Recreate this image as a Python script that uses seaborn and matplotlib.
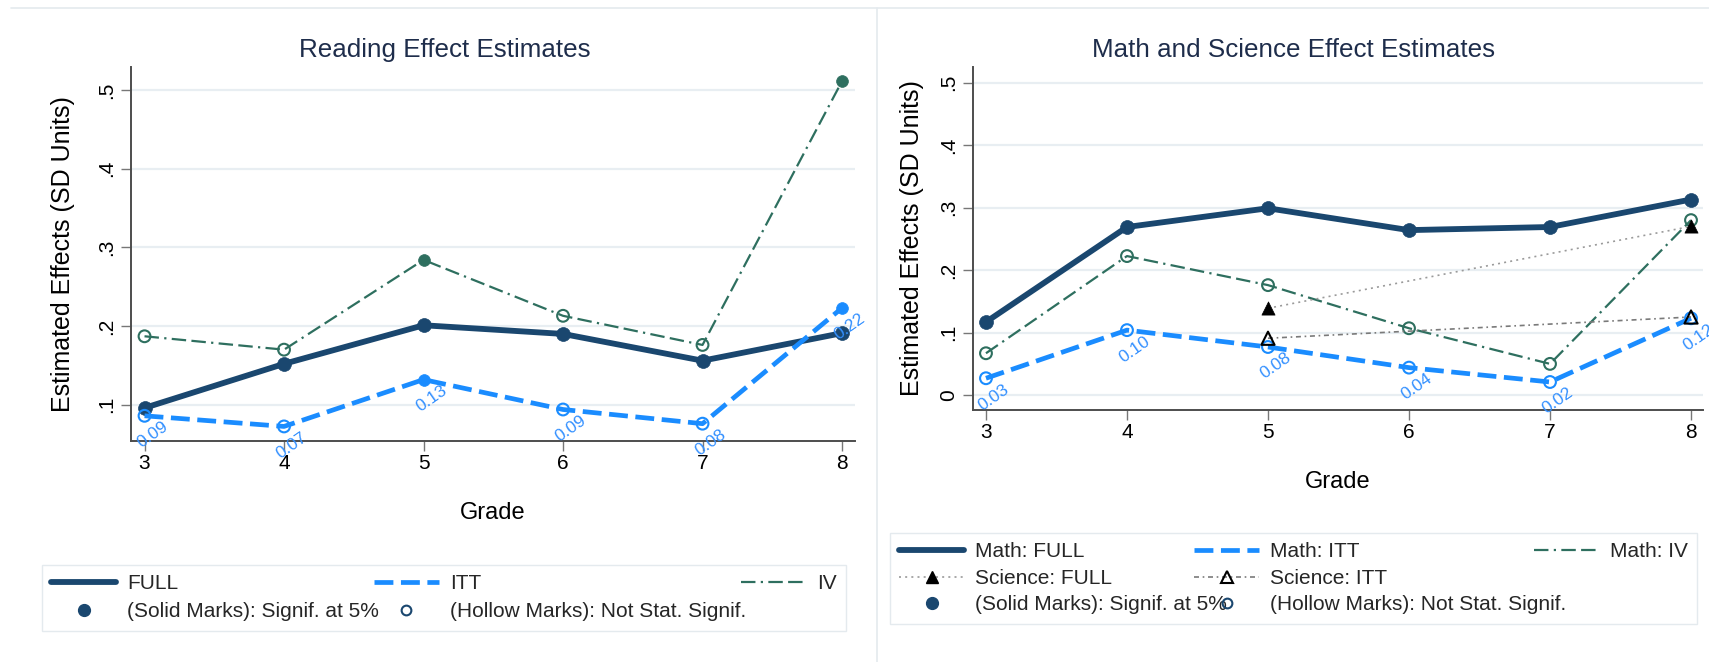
import numpy as np
import pandas as pd
import matplotlib
matplotlib.use("Agg")
import matplotlib.pyplot as plt
import seaborn as sns
from matplotlib.lines import Line2D

# ---------------- data ----------------
grades = [3, 4, 5, 6, 7, 8]
grade_labels = ["3", "4", "5", "6", "7", "8"]

read_full = [0.096, 0.152, 0.201, 0.190, 0.156, 0.191]
read_full_sig = [1, 1, 1, 1, 1, 1]
read_itt = [0.086, 0.0725, 0.132, 0.094, 0.076, 0.223]
read_itt_sig = [0, 0, 1, 0, 0, 1]
read_iv = [0.187, 0.170, 0.284, 0.213, 0.176, 0.511]
read_iv_sig = [0, 0, 1, 0, 0, 1]

math_full = [0.117, 0.269, 0.299, 0.264, 0.269, 0.313]
math_full_sig = [1, 1, 1, 1, 1, 1]
math_itt = [0.027, 0.104, 0.077, 0.044, 0.021, 0.123]
math_itt_sig = [0, 0, 0, 0, 0, 0]
math_iv = [0.067, 0.2225, 0.176, 0.107, 0.050, 0.280]
math_iv_sig = [0, 0, 0, 0, 0, 0]
sci_full = [np.nan, np.nan, 0.139, np.nan, np.nan, 0.270]
sci_full_sig = [0, 0, 1, 0, 0, 1]
sci_itt = [np.nan, np.nan, 0.091, np.nan, np.nan, 0.125]
sci_itt_sig = [0, 0, 0, 0, 0, 0]

read_yticks = [0.1, 0.2, 0.3, 0.4, 0.5]
read_ytick_labels = [".1", ".2", ".3", ".4", ".5"]
math_yticks = [0.0, 0.1, 0.2, 0.3, 0.4, 0.5]
math_ytick_labels = ["0", ".1", ".2", ".3", ".4", ".5"]

read_title = "Reading Effect Estimates"
math_title = "Math and Science Effect Estimates"
ylab = "Estimated Effects (SD Units)"
xlab = "Grade"
read_legend_labels = ["FULL", "ITT", "IV",
                      "(Solid Marks): Signif. at 5%", "(Hollow Marks): Not Stat. Signif."]
math_legend_labels = ["Math: FULL", "Math: ITT", "Math: IV", "Science: FULL", "Science: ITT",
                      "(Solid Marks): Signif. at 5%", "(Hollow Marks): Not Stat. Signif."]

# ---------------- style ----------------
sns.set_style("white")
plt.rcParams["font.family"] = ["Liberation Sans", "DejaVu Sans"]

NAVY = "#1a476f"
BLUE = "#1a8cff"
LBLUE = "#3390ff"
GREEN = "#2e6f5f"
GRAY_DOT = "#9a9a9a"
GRAY_DD = "#7a7a7a"
TITLE_C = "#1e2d4b"

ITT_LS = (0, (4.0, 1.6))
IV_LS = (0, (6.5, 2.4, 1, 2.4, 6.5, 2.4))
SCIF_LS = (0, (1.2, 2.5))
SCII_LS = (0, (3, 2.2, 1, 2.2))

W, H = 1709, 662
fig = plt.figure(figsize=(W / 100, H / 100), dpi=100)
fig.patch.set_facecolor("white")

axL = fig.add_axes([131 / W, 1 - 441 / H, 724 / W, 374 / H])
axR = fig.add_axes([973 / W, 1 - 409.5 / H, 730 / W, 342.5 / H])


def draw_series(ax, y, sig, color, lw, ls, marker, s, mcolor=None, z=2, mew=1.5):
    df = pd.DataFrame({"grade": grades, "value": y, "sig": sig}).dropna()
    sns.lineplot(data=df, x="grade", y="value", ax=ax, color=color, lw=lw,
                 linestyle=ls, zorder=z, legend=False, estimator=None)
    mc = mcolor or color
    solid = df[df.sig == 1]
    hollow = df[df.sig == 0]
    if len(solid):
        sns.scatterplot(data=solid, x="grade", y="value", ax=ax, marker=marker, s=s,
                        color=mc, edgecolor=mc, linewidth=0.5, zorder=z + 0.5, legend=False)
    if len(hollow):
        sns.scatterplot(data=hollow, x="grade", y="value", ax=ax, marker=marker, s=s,
                        facecolor="none", edgecolor=mc, linewidth=mew, zorder=z + 0.5,
                        legend=False)


def label_itt(ax, y):
    for g, v in zip(grades, y):
        ax.annotate(f"{v:.2f}", (g, v), xytext=(8, -19), textcoords="offset pixels",
                    ha="center", va="center", rotation=35, rotation_mode="anchor",
                    color=LBLUE, fontsize=12.5, annotation_clip=False, zorder=8)


def style_axes(ax, yticks, ylabels, xlim, ylim, ylab_x, xlab_y):
    ax.set_xlim(*xlim)
    ax.set_ylim(*ylim)
    ax.set_xticks(grades)
    ax.set_xticklabels(grade_labels)
    ax.set_yticks(yticks)
    ax.set_yticklabels(ylabels, rotation=90, va="center")
    ax.yaxis.grid(True, color="#e8eef2", lw=1.6, zorder=0)
    ax.xaxis.grid(False)
    ax.set_axisbelow(True)
    for sp in ["top", "right"]:
        ax.spines[sp].set_visible(False)
    for sp in ["left", "bottom"]:
        ax.spines[sp].set_color("#4d4d4d")
        ax.spines[sp].set_linewidth(1.4)
    ax.tick_params(axis="x", length=7, width=1, color="#777777", labelsize=15,
                   pad=2.5, labelcolor="black", bottom=True)
    ax.tick_params(axis="y", length=7, width=1, color="#777777", labelsize=15,
                   pad=3.6, labelcolor="black", left=True)
    ax.set_ylabel(ylab, fontsize=18, color="black")
    ax.set_xlabel(xlab, fontsize=17, color="black")
    ax.yaxis.set_label_coords(ylab_x, 0.5)
    ax.xaxis.set_label_coords(0.5, xlab_y)
    ax.set_facecolor("white")


# ---------- Reading panel ----------
draw_series(axL, read_full, read_full_sig, NAVY, 4.2, "-", "o", 100, z=3)
draw_series(axL, read_itt, read_itt_sig, BLUE, 3.4, ITT_LS, "o", 72, z=4)
draw_series(axL, read_iv, read_iv_sig, GREEN, 1.6, IV_LS, "o", 72, z=5)
label_itt(axL, read_itt)
style_axes(axL, read_yticks, read_ytick_labels, (2.903, 8.093), (0.054, 0.529),
           -0.077, -0.1644)

# ---------- Math panel ----------
draw_series(axR, math_full, math_full_sig, NAVY, 4.2, "-", "o", 100, z=3)
draw_series(axR, math_itt, math_itt_sig, BLUE, 3.4, ITT_LS, "o", 72, z=4)
draw_series(axR, math_iv, math_iv_sig, GREEN, 1.6, IV_LS, "o", 72, z=5)
draw_series(axR, sci_full, sci_full_sig, GRAY_DOT, 1.2, SCIF_LS, "^", 90, mcolor="black", z=6)
draw_series(axR, sci_itt, sci_itt_sig, GRAY_DD, 1.2, SCII_LS, "^", 90, mcolor="black", z=6)
label_itt(axR, math_itt)
style_axes(axR, math_yticks, math_ytick_labels, (2.908, 8.085), (-0.023, 0.525),
           -0.0665, -0.1796)

# ---------- titles ----------
fig.text(445 / W, 1 - 56.7 / H, read_title, ha="center", va="baseline",
         fontsize=18.7, color=TITLE_C)
fig.text(1294 / W, 1 - 56.7 / H, math_title, ha="center", va="baseline",
         fontsize=18.7, color=TITLE_C)

# ---------- legends ----------
h_full = Line2D([], [], color=NAVY, lw=4.2)
h_itt = Line2D([], [], color=BLUE, lw=3.4, ls=ITT_LS)
h_iv = Line2D([], [], color=GREEN, lw=1.6, ls=IV_LS)
h_solid = Line2D([], [], ls="none", marker="o", ms=8.5, color=NAVY)
h_hollow = Line2D([], [], ls="none", marker="o", ms=7, mfc="none", mec=NAVY, mew=1.5)
h_scif = Line2D([], [], color=GRAY_DOT, lw=1.2, ls=SCIF_LS, marker="^", ms=9,
                mfc="black", mec="black")
h_scii = Line2D([], [], color=GRAY_DD, lw=1.2, ls=SCII_LS, marker="^", ms=9,
                mfc="none", mec="black", mew=1.5)
h_blank = Line2D([], [], alpha=0)

leg_kw = dict(ncol=3, mode="expand", loc="upper left", fontsize=15,
              handlelength=3.1, handletextpad=0.55, borderpad=0.45,
              frameon=True, fancybox=False, framealpha=1, edgecolor="#e4eaee",
              bbox_transform=fig.transFigure, numpoints=1, borderaxespad=0)

legL = fig.legend(handles=[h_full, h_solid, h_itt, h_hollow, h_iv],
                  labels=[read_legend_labels[0], read_legend_labels[3],
                          read_legend_labels[1], read_legend_labels[4],
                          read_legend_labels[2]],
                  bbox_to_anchor=(42 / W, 1 - 638 / H, 804 / W, 73 / H),
                  labelspacing=0.43, **leg_kw)
legL.get_frame().set_linewidth(1.0)

legR = fig.legend(handles=[h_full, h_scif, h_solid, h_itt, h_scii, h_hollow,
                           h_iv, h_blank, h_blank],
                  labels=[math_legend_labels[0], math_legend_labels[3], math_legend_labels[5],
                          math_legend_labels[1], math_legend_labels[4], math_legend_labels[6],
                          math_legend_labels[2], "", ""],
                  bbox_to_anchor=(890 / W, 1 - 639 / H, 807 / W, 106 / H),
                  labelspacing=0.36, **leg_kw)
legR.get_frame().set_linewidth(1.0)

# ---------- panel borders ----------
fig.add_artist(Line2D([11 / W, 1.0], [1 - 8 / H, 1 - 8 / H], transform=fig.transFigure,
                      color="#e4eaee", lw=1.2))
fig.add_artist(Line2D([877 / W, 877 / W], [0, 1 - 8 / H], transform=fig.transFigure,
                      color="#e4eaee", lw=1.2))

fig.savefig("out.png", dpi=100, facecolor="white")
